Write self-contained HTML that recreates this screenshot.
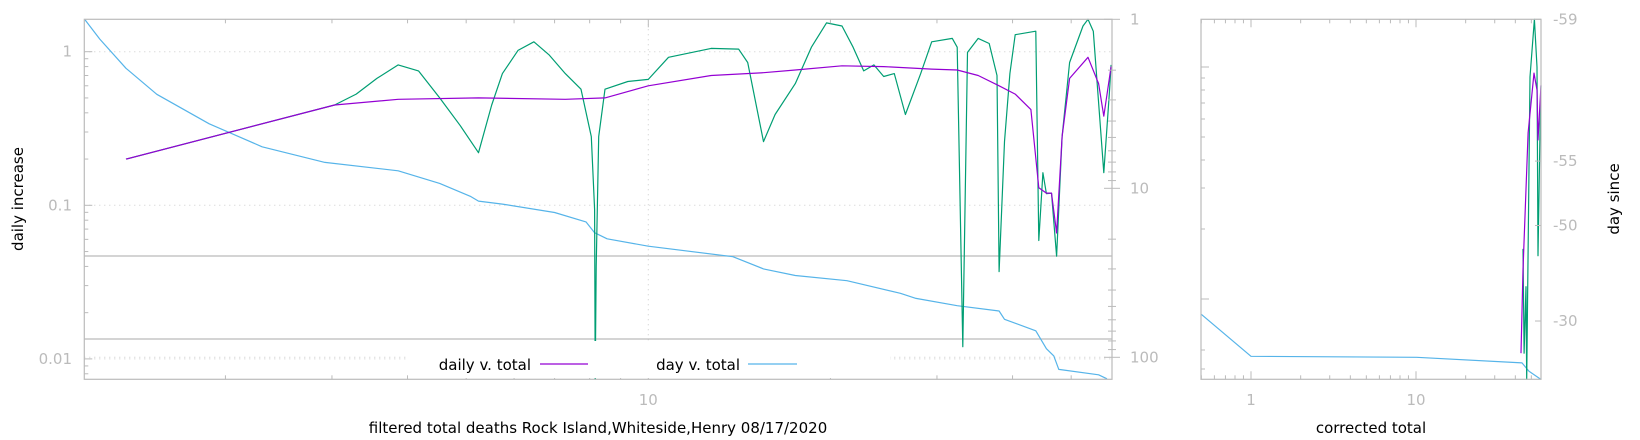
<!DOCTYPE html>
<html><head><meta charset="utf-8"><style>
html,body{margin:0;padding:0;background:#fff;}
svg{display:block;font-family:"DejaVu Sans","Liberation Sans",sans-serif;}
</style></head><body>
<svg id="chart" width="1640" height="440" viewBox="0 0 1640 440" xmlns="http://www.w3.org/2000/svg">
<rect x="0" y="0" width="1640" height="440" fill="#fff"/>
<g id="grid"></g>
<g id="series"></g>
<g id="axes"></g>
<g id="legend">
  <rect x="408" y="341" width="482" height="37" fill="#fff"/>
  <text x="531" y="370" font-size="15" text-anchor="end" fill="#000">daily v. total</text>
  <line x1="540" y1="364" x2="588" y2="364" stroke="#9400d3" stroke-width="1.2"/>
  <text x="740" y="370" font-size="15" text-anchor="end" fill="#000">day v. total</text>
  <line x1="748" y1="364" x2="797" y2="364" stroke="#56b4e9" stroke-width="1.2"/>
</g>
<text x="598" y="433" font-size="15" text-anchor="middle">filtered total deaths Rock Island,Whiteside,Henry 08/17/2020</text>
<text x="1371" y="433" font-size="15" text-anchor="middle">corrected total</text>
<text transform="translate(23,199) rotate(-90)" font-size="15" text-anchor="middle">daily increase</text>
<text transform="translate(1619,199) rotate(-90)" font-size="15" text-anchor="middle">day since</text>
</svg>
<script>
// ---- data ----
const greenX=[1.37,3.03,3.29,3.56,3.86,4.17,4.52,4.89,5.24,5.51,5.74,6.09,6.47,6.86,7.29,7.74,8.05,8.15,8.17,8.20,8.28,8.48,9.25,10,10.8,12.7,14.1,14.6,15.5,16.2,17.5,18.6,19.7,20.9,21.8,22.7,23.6,24.5,25.5,26.6,28.2,29.4,31.8,32.4,33.1,33.7,35.1,36.6,37.7,38.0,38.8,39.6,40.4,43.7,44.2,44.9,45.5,46.4,47.3,48.3,49.7,52.3,53.3,54.4,56.6,57.8,58.2];
const greenY=[0.20,0.45,0.53,0.67,0.82,0.75,0.50,0.33,0.22,0.45,0.72,1.02,1.16,0.95,0.72,0.57,0.28,0.094,0.006,0.04,0.28,0.57,0.64,0.66,0.92,1.05,1.04,0.85,0.26,0.39,0.62,1.07,1.54,1.47,1.07,0.75,0.82,0.69,0.72,0.39,0.72,1.16,1.22,1.07,0.012,0.99,1.22,1.13,0.70,0.037,0.26,0.72,1.29,1.36,0.059,0.163,0.119,0.12,0.0466,0.28,0.85,1.47,1.64,1.36,0.163,0.53,0.82];
const purpleX=[1.37,3.03,3.86,5.24,7.29,8.48,10,12.7,15.5,17.5,20.9,24.5,29.4,32.4,35.1,38.0,40.4,42.9,44.2,45.5,46.4,47.3,48.3,49.7,53.3,55.5,56.6,58.2];
const purpleY=[0.20,0.45,0.49,0.50,0.49,0.50,0.60,0.70,0.73,0.76,0.81,0.80,0.77,0.76,0.70,0.60,0.53,0.42,0.13,0.12,0.12,0.066,0.28,0.67,0.92,0.62,0.38,0.80];
const blueX=[1.17,1.24,1.37,1.54,1.88,2.30,2.92,3.86,4.52,5.09,5.24,5.74,7.0,7.89,8.15,8.55,10,13.8,15.5,17.5,21.3,26.1,27.7,32.4,38.0,38.8,43.7,45.5,46.8,47.7,55.5,57.3];
const blueDay=[1.0,1.31,1.95,2.78,4.15,5.68,7.03,7.88,9.35,11.2,11.9,12.4,13.9,15.8,18.3,19.9,22.0,25.4,30.0,32.8,35.2,41.8,44.8,49.5,53.2,59.6,69.7,88.9,98.1,118,127,134];
const rBlueX=[0.5,1.0,10.1,43.9,48.4,57];
const rBlueDay=[55.7,98.6,100,108,121,135];
const rPurpleX=[43.3,44.5,47.8,51.9,54.1,54.9,57.3];
const rPurpleY=[0.0109,0.038,0.296,0.726,0.563,0.266,0.607];
const rGreenX=[44.5,45.2,46.4,46.9,49.1,52.2,54.1,54.9,56.4,57.3];
const rGreenY=[0.052,0.0109,0.0295,0.005,0.684,1.63,0.795,0.047,0.296,0.598];
const yTickLabels=["1","0.1","0.01"];
const yTickVals=[1,0.1,0.01];
const y2TickLabels=["1","10","100"];
const y2TickVals=[1,10,100];
const rXTickLabels=["1","10"];
const rXTickVals=[1,10];
const rY2Labels=["-59","-55","-50","-30"];
const rY2Days=[1.0,6.9,16.6,61];

// ---- axes ----
const L=84.3,R=1112,T=19.3,B=379.3;
const RL=1201,RR=1541;
const X=v=>648.3+605*Math.log10(v/10);
const Y=v=>51.7-153.6*Math.log10(v);
const Y2=d=>19.3+169*Math.log10(d);
const RX=v=>1251+165*Math.log10(v);
const clampY=y=>Math.max(T,Math.min(B,y));
const NS="http://www.w3.org/2000/svg";
function mk(tag,attrs,parent){const e=document.createElementNS(NS,tag);for(const k in attrs)e.setAttribute(k,attrs[k]);parent.appendChild(e);return e;}
const grid=document.getElementById('grid'),ser=document.getElementById('series'),ax=document.getElementById('axes');

yTickVals.forEach((v,i)=>{const g=mk('line',{x1:L,x2:R,y1:Y(v),y2:Y(v),stroke:'#ccc','stroke-dasharray':'1,4'},grid);

});
const gx=mk('line',{x1:X(10),x2:X(10),y1:T,y2:B,stroke:'#ccc','stroke-dasharray':'1,4'},grid);


const g100=mk('line',{x1:L,x2:R,y1:Y2(100),y2:Y2(100),stroke:'#ccc','stroke-dasharray':'1,4'},grid);


[256,339].forEach(y=>{const h=mk('line',{x1:L,x2:R,y1:y,y2:y,stroke:'#bbb','stroke-width':1.2},grid);

});

function poly(xs,ys,fx,fy,color,name,xmin,xmax){
  const pts=xs.map((x,i)=>Math.max(xmin,Math.min(xmax,fx(x))).toFixed(1)+','+clampY(fy(ys[i])).toFixed(1)).join(' ');
  const p=mk('polyline',{points:pts,fill:'none',stroke:color,'stroke-width':1.2,'stroke-linejoin':'round'},ser);
  
  
}
poly(blueX,blueDay,X,Y2,'#56b4e9','day-v-total-line',L,R);
poly(greenX,greenY,X,Y,'#009e73','daily-raw-line',L,R);
poly(purpleX,purpleY,X,Y,'#9400d3','daily-v-total-line',L,R);
poly(rBlueX,rBlueDay,RX,Y2,'#56b4e9','right-day-line',RL,RR);
poly(rGreenX,rGreenY,RX,Y,'#009e73','right-raw-line',RL,RR);
poly(rPurpleX,rPurpleY,RX,Y,'#9400d3','right-daily-line',RL,RR);

[[L,R],[RL,RR]].forEach(([a,b],i)=>{const f=mk('rect',{x:a,y:T,width:b-a,height:B-T,fill:'none',stroke:'#bbb','stroke-width':1.2},ax);

});

function tick(x1,y1,x2,y2){const t=mk('line',{x1,y1,x2,y2,stroke:'#bbb'},ax);

}
function label(x,y,s,anchor,name){const t=mk('text',{x,y,'font-size':15,fill:'#bbb','text-anchor':anchor},ax);t.textContent=s;

}

for(let d=1;d<=100;d*=10)for(let m=1;m<10;m++){const v=d*m,x=X(v);if(x<L||x>R)continue;const len=m===1?8:4;tick(x,B,x,B-len);tick(x,T,x,T+len);}
label(X(10),405,"10",'middle','x-tick-label');
for(let d=0.001;d<=1;d*=10)for(let m=1;m<10;m++){const v=d*m,y=Y(v);if(y<T||y>B)continue;const len=m===1?8:4;tick(L,y,L+len,y);}
yTickVals.forEach((v,i)=>label(72,Y(v)+5,yTickLabels[i],'end','y-tick-label'));
for(let d=1;d<=100;d*=10)for(let m=1;m<10;m++){const v=d*m,y=Y2(v);if(y<T||y>B)continue;const len=m===1?8:4;tick(R,y,R-len,y);tick(R,y,R+(m===1?8:4),y);}
y2TickVals.forEach((v,i)=>label(1130,Y2(v)+5,y2TickLabels[i],'start','y2-tick-label'));
for(let d=0.1;d<=10;d*=10)for(let m=1;m<10;m++){const v=d*m,x=RX(v);if(x<RL||x>RR)continue;const len=m===1?8:4;tick(x,B,x,B-len);tick(x,T,x,T+len);}
rXTickVals.forEach((v,i)=>label(RX(v),405,rXTickLabels[i],'middle','right-x-tick-label'));
[67,78,90,103,119,137,160,188,229,299,350,369].forEach((y,i)=>tick(RL,y,RL+(i===0||i===9?8:4),y));
rY2Days.forEach((d,i)=>{const y=Y2(d);tick(RR,y,RR-6,y);label(1553,y+5,rY2Labels[i],'start','right-y2-tick-label');});
</script>
</body></html>
